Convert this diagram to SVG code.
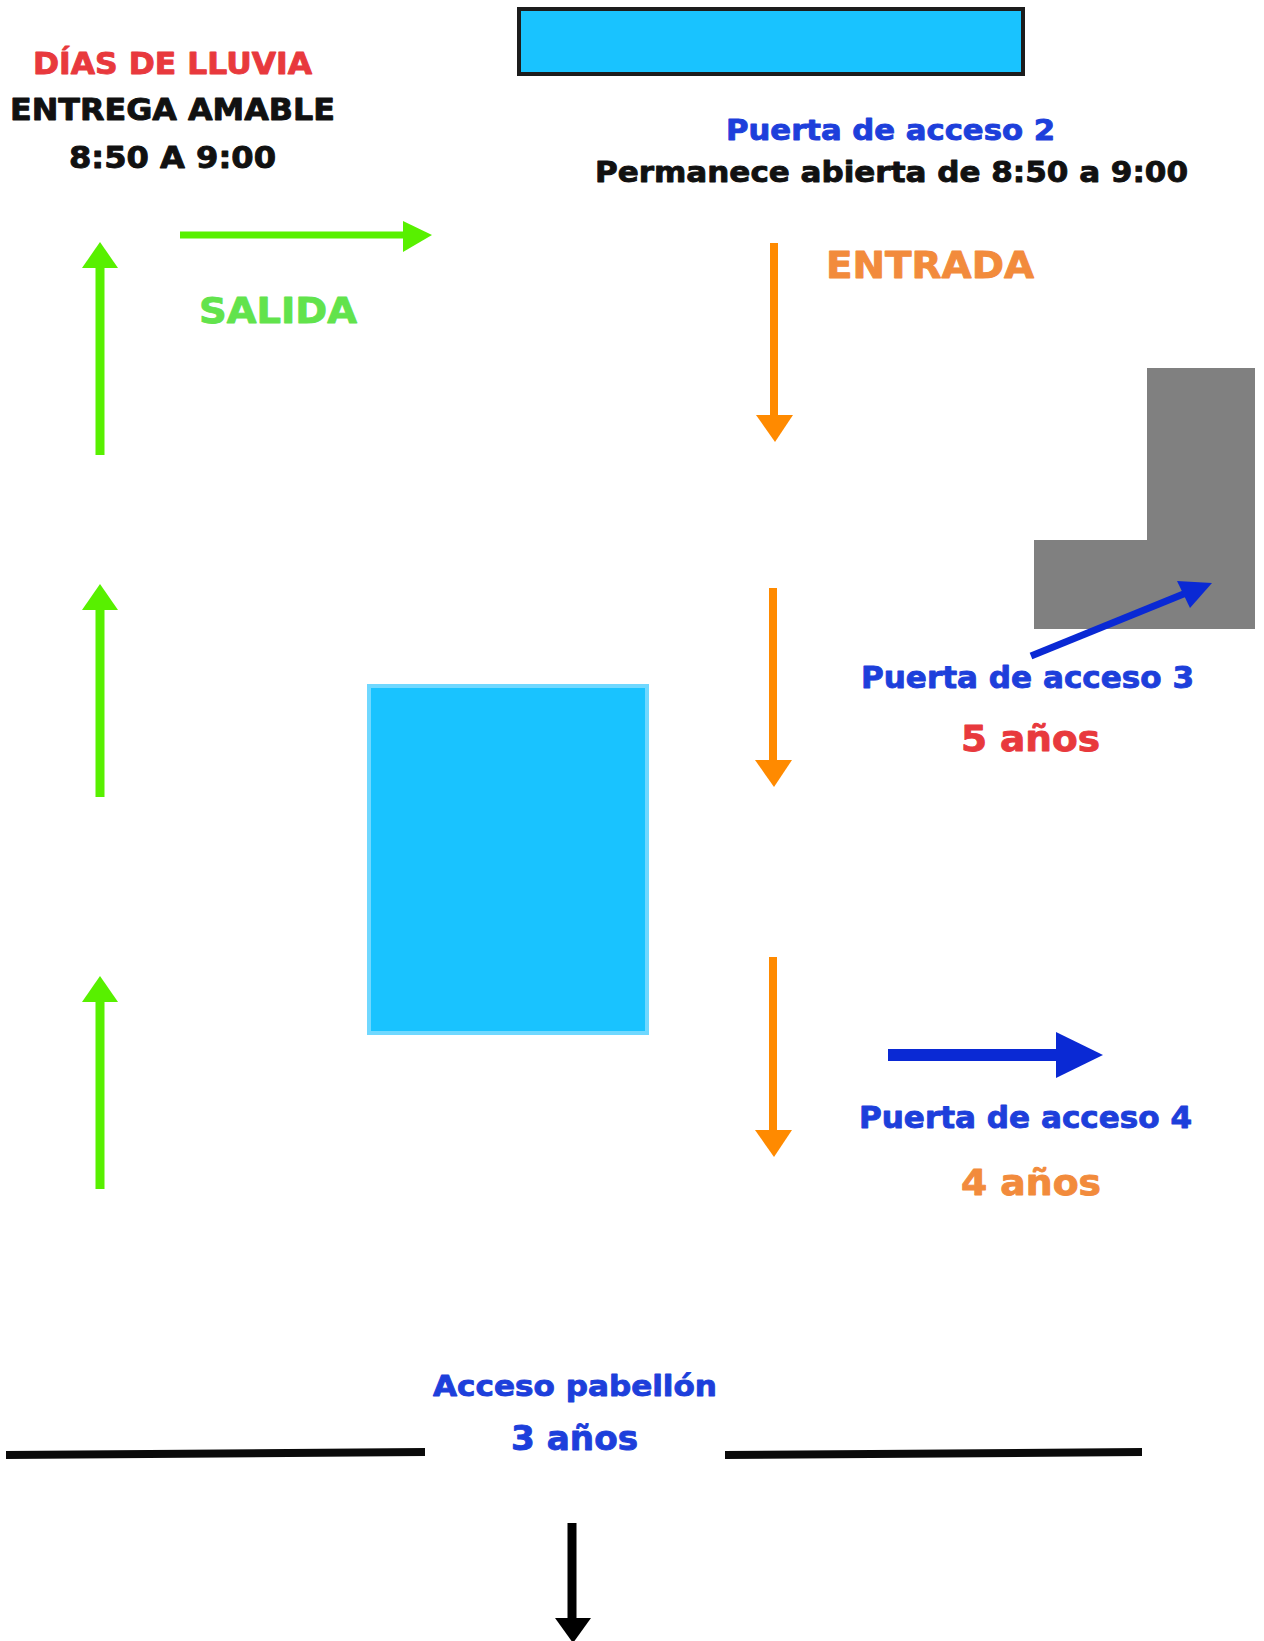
<svg xmlns="http://www.w3.org/2000/svg" width="1264" height="1641" viewBox="0 0 1264 1641">
<style>
text{font-family:"DejaVu Sans","Liberation Sans",sans-serif;font-weight:bold;stroke-width:0.9;stroke-linejoin:round}
.red{fill:#e8393d;stroke:#e8393d}
.blk{fill:#111111;stroke:#111111}
.blue{fill:#1d3fdb;stroke:#1d3fdb}
.org{fill:#f28b3c;stroke:#f28b3c}
.grn{fill:#62e34c;stroke:#62e34c}
.ga{stroke:#58f000;fill:none}
.gh{fill:#58f000}
.oa{stroke:#ff8a00;stroke-width:8;fill:none}
.oh{fill:#ff8a00}
.ba{stroke:#0a29d4;fill:none}
.bh{fill:#0a29d4}
</style>
<rect width="1264" height="1641" fill="#ffffff"/>
<g id="top-building"><rect x="519" y="9" width="504" height="65" fill="#19c3ff" stroke="#1c1c1c" stroke-width="4"/></g>
<g id="center-building"><rect x="369" y="686" width="278" height="347" fill="#19c3ff" stroke="#70d8ff" stroke-width="4"/></g>
<g id="grey-building"><path d="M1147 368 H1255 V629 H1034 V540 H1147 Z" fill="#808080"/></g>
<g id="label-lluvia">
<text x="33" y="74" font-size="30" class="red" textLength="279" lengthAdjust="spacingAndGlyphs">DÍAS DE LLUVIA</text>
<text x="10" y="120" font-size="30" class="blk" textLength="325" lengthAdjust="spacingAndGlyphs">ENTREGA AMABLE</text>
<text x="69" y="168" font-size="30" class="blk" textLength="207" lengthAdjust="spacingAndGlyphs">8:50 A 9:00</text>
</g>
<g id="label-salida"><text x="199" y="323" font-size="36" class="grn" textLength="158" lengthAdjust="spacingAndGlyphs">SALIDA</text></g>
<g id="label-puerta2">
<text x="726" y="140" font-size="28" class="blue" textLength="329" lengthAdjust="spacingAndGlyphs">Puerta de acceso 2</text>
<text x="595" y="182" font-size="29" class="blk" textLength="593" lengthAdjust="spacingAndGlyphs">Permanece abierta de 8:50 a 9:00</text>
</g>
<g id="label-entrada"><text x="826" y="278" font-size="38" class="org" textLength="208" lengthAdjust="spacingAndGlyphs">ENTRADA</text></g>
<g id="label-puerta3">
<text x="861" y="688" font-size="31" class="blue" textLength="333" lengthAdjust="spacingAndGlyphs">Puerta de acceso 3</text>
<text x="961" y="751" font-size="36" class="red" textLength="139" lengthAdjust="spacingAndGlyphs">5 años</text>
</g>
<g id="label-puerta4">
<text x="859" y="1128" font-size="30" class="blue" textLength="333" lengthAdjust="spacingAndGlyphs">Puerta de acceso 4</text>
<text x="961" y="1195" font-size="35" class="org" textLength="140" lengthAdjust="spacingAndGlyphs">4 años</text>
</g>
<g id="label-pabellon">
<text x="433" y="1396" font-size="29" class="blue" textLength="284" lengthAdjust="spacingAndGlyphs">Acceso pabellón</text>
<text x="511" y="1450" font-size="34" class="blue" textLength="127" lengthAdjust="spacingAndGlyphs">3 años</text>
</g>
<g id="walls">
<line x1="6" y1="1455" x2="425" y2="1452" stroke="#0a0a0a" stroke-width="8"/>
<line x1="725" y1="1455" x2="1142" y2="1452" stroke="#0a0a0a" stroke-width="8"/>
</g>
<g id="connectors">
<line x1="180" y1="235" x2="404" y2="235" class="ga" stroke-width="7"/>
<polygon points="403,221 403,252 432,235" class="gh"/>
<line x1="100" y1="455" x2="100" y2="266" class="ga" stroke-width="9"/>
<polygon points="82,268 118,268 100,242" class="gh"/>
<line x1="100" y1="797" x2="100" y2="608" class="ga" stroke-width="9"/>
<polygon points="82,610 118,610 100,584" class="gh"/>
<line x1="100" y1="1189" x2="100" y2="1000" class="ga" stroke-width="9"/>
<polygon points="82,1002 118,1002 100,976" class="gh"/>
<line x1="774" y1="243" x2="774" y2="417" class="oa"/>
<polygon points="756,415 793,415 775,442" class="oh"/>
<line x1="773" y1="588" x2="773" y2="762" class="oa"/>
<polygon points="755,760 792,760 774,787" class="oh"/>
<line x1="773" y1="957" x2="773" y2="1132" class="oa"/>
<polygon points="755,1130 792,1130 774,1157" class="oh"/>
<line x1="1031" y1="656" x2="1186" y2="593" class="ba" stroke-width="7"/>
<polygon points="1177,581 1190,608 1212,583" class="bh"/>
<line x1="888" y1="1055" x2="1058" y2="1055" class="ba" stroke-width="12"/>
<polygon points="1056,1032 1056,1078 1103,1055" class="bh"/>
<line x1="572" y1="1523" x2="572" y2="1620" stroke="#000000" stroke-width="9"/>
<polygon points="555,1618 591,1618 573,1643" fill="#000000"/>
</g>
</svg>
